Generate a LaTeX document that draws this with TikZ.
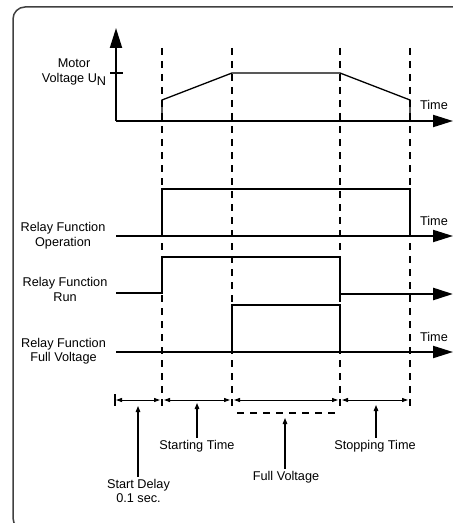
\documentclass[tikz,border=0pt]{standalone}
\usepackage{fontspec}
\setmainfont{Liberation Sans}
\usetikzlibrary{arrows.meta}

\tikzset{
  axis/.style={line width=2bp, -{Triangle[length=20bp,width=12bp]}},
  trace/.style={line width=1.3bp},
  runtrace/.style={line width=2.6bp, -{Triangle[length=20bp,width=12bp]}},
  guide/.style={line width=1.3bp, dash pattern=on 7bp off 6bp},
  span/.style={line width=1bp, {Triangle[length=6bp,width=4bp]}-{Triangle[length=6bp,width=4bp]}},
  pointer/.style={line width=1.2bp, -{Triangle[length=6bp,width=4.5bp]}, shorten <=2bp},
  lbl/.style={font=\fontsize{12.7bp}{14.5bp}\selectfont, align=center, inner sep=0pt},
}

\begin{document}
\begin{tikzpicture}[x=1bp, y=-1bp]
  \clip (0,0) rectangle (453,523);

  % frame
  \draw[line width=1.5bp, black!75, rounded corners=12bp] (13,7) rectangle (480,530);

  % time marks
  \foreach \x in {162,232,340,410}
    \draw[guide] (\x,48) -- (\x,412);
  \draw[guide] (237,413) -- (340,413);

  % motor voltage
  \draw[axis] (116,121) -- (116,28);
  \draw[line width=1.3bp] (110,73) -- (123,73);
  \draw[axis] (116,121) -- (453,121);
  \draw[trace] (162,121) -- (162,100) -- (232,73) -- (340,73) -- (410,100) -- (410,121);
  \node[lbl] (motor) at (74,72) {Motor\\Voltage U\raisebox{-3bp}{N}};
  \node[lbl] (time1) at (434,105) {Time};

  % relay function operation
  \draw[axis] (116,236) -- (453,236);
  \draw[trace] (162,236) -- (162,189) -- (410,189) -- (410,236);
  \node[lbl] (oper) at (63,235.5) {Relay Function\\Operation};
  \node[lbl] (time2) at (434,221) {Time};

  % relay function run
  \draw[runtrace] (116,293) -- (162,293) -- (162,257) -- (340,257) -- (340,294) -- (453,294);
  \node[lbl] (run) at (65,289.5) {Relay Function\\Run};

  % relay function full voltage
  \draw[axis] (116,352) -- (453,352);
  \draw[trace] (232,352) -- (232,305) -- (340,305) -- (340,352);
  \node[lbl] (fullv) at (63.5,351) {Relay Function\\Full Voltage};
  \node[lbl] (time3) at (434,337) {Time};

  % spans
  \draw[line width=1.3bp] (115,394) -- (115,406);
  \draw[span] (116,400) -- (160,400);
  \draw[span] (164,400) -- (230,400);
  \draw[span] (234,400) -- (338,400);
  \draw[span] (342,400) -- (408,400);

  \coordinate (pdelay) at (138,406);
  \coordinate (pstart) at (197,403);
  \coordinate (pfull) at (285,418);
  \coordinate (pstop) at (376,405);

  \node[lbl] (delay) at (138.5,491) {Start Delay\\0.1 sec.};
  \node[lbl] (start) at (197,446) {Starting Time};
  \node[lbl] (full) at (286,477) {Full Voltage};
  \node[lbl] (stop) at (375,446) {Stopping Time};

  \draw[pointer] (delay.north -| pdelay) -- (pdelay);
  \draw[pointer] (start.north -| pstart) -- (pstart);
  \draw[pointer] (full.north -| pfull) -- (pfull);
  \draw[pointer] (stop.north -| pstop) -- (pstop);
\end{tikzpicture}
\end{document}
